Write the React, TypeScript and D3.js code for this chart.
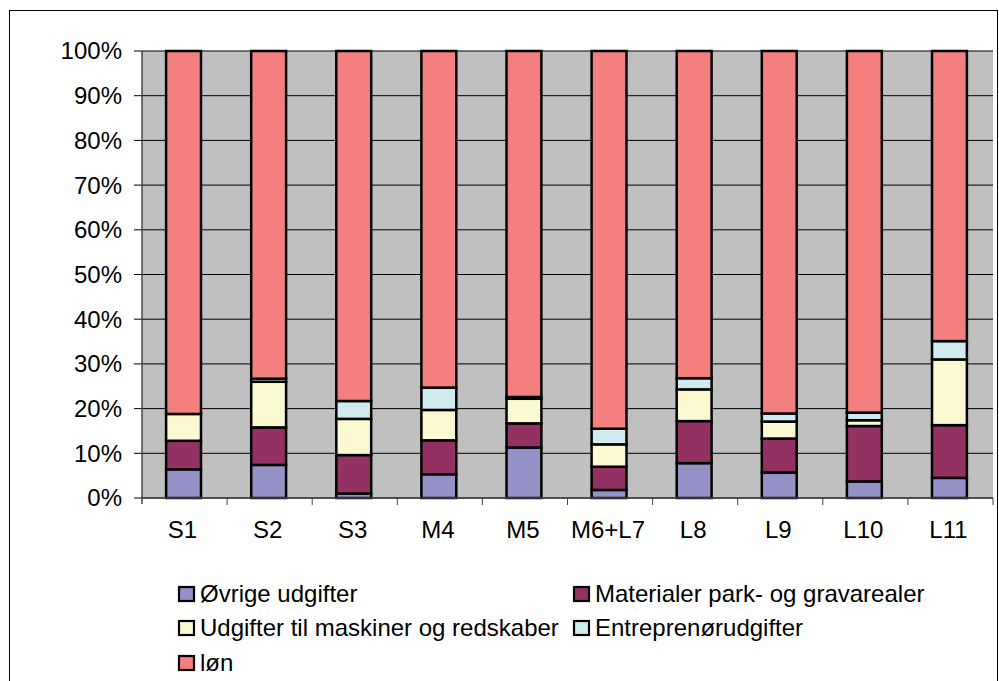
import React from 'react';
import * as d3 from 'd3';

const categories = ['S1', 'S2', 'S3', 'M4', 'M5', 'M6+L7', 'L8', 'L9', 'L10', 'L11'];
const seriesNames = [
  'Øvrige udgifter',
  'Materialer park- og gravarealer',
  'Udgifter til maskiner og redskaber',
  'Entreprenørudgifter',
  'løn',
];
const seriesColors = ['#9491c6', '#933163', '#fbf9d1', '#cfebef', '#f47f7f'];

// shares in percent, one array per series
const ovrige = [6.4, 7.4, 1.0, 5.3, 11.3, 1.8, 7.8, 5.7, 3.7, 4.5];
const materialer = [6.4, 8.4, 8.6, 7.6, 5.4, 5.2, 9.4, 7.6, 12.4, 11.8];
const maskiner = [6.0, 10.2, 8.1, 6.8, 5.5, 5.0, 7.1, 3.8, 1.3, 14.7];
const entreprenor = [0, 0.7, 4.0, 5.0, 0.4, 3.5, 2.5, 1.8, 1.7, 4.1];
const lon = [81.2, 73.3, 78.3, 75.3, 77.4, 84.5, 73.2, 81.1, 80.9, 64.9];
const yTicks = [0, 10, 20, 30, 40, 50, 60, 70, 80, 90, 100];

const W = 999, H = 681;
const left = 142, right = 993, top = 51, bottom = 498;
const font = '"Liberation Sans", Arial, sans-serif';
const fs = 24;

export default function App() {
  const series = [ovrige, materialer, maskiner, entreprenor, lon];
  const rows = categories.map((c, i) => {
    const r: any = { cat: c };
    seriesNames.forEach((n, k) => { r[n] = series[k][i]; });
    return r;
  });
  const stacked = d3.stack().keys(seriesNames).offset(d3.stackOffsetExpand)(rows);

  const x = d3.scaleBand().domain(categories).range([left, right]).paddingInner(0).paddingOuter(0);
  const y = d3.scaleLinear().domain([0, 1]).range([bottom, top]);
  const barW = x.bandwidth() * 0.41;

  // legend layout: two columns, three rows
  const legendItems = [
    { x: 179, y: 594 }, { x: 574, y: 594 },
    { x: 179, y: 628 }, { x: 574, y: 628 },
    { x: 179, y: 663 },
  ];

  return (
    <svg width={W} height={H} style={{ position: 'absolute', left: 0, top: 0, background: '#fff' }}>
      <rect x={9.5} y={10.5} width={988} height={680} fill="#fff" stroke="#000" strokeWidth={1} />
      <rect x={left} y={top} width={right - left} height={bottom - top} fill="#c0c0c0" />
      {yTicks.map(t => (
        <g key={t}>
          <line x1={left - 8} x2={right} y1={y(t / 100)} y2={y(t / 100)} stroke="#000" strokeWidth={1} />
          <text x={left - 20} y={y(t / 100)} dy="0.35em" textAnchor="end" fontFamily={font} fontSize={fs} fill="#000">{t}%</text>
        </g>
      ))}
      {stacked.map((s, k) => (
        <g key={k}>
          {s.map((d, i) => (
            d[1] - d[0] > 0 ? (
              <rect key={i}
                x={(x(categories[i]) as number) + (x.bandwidth() - barW) / 2 - 1}
                y={y(d[1])}
                width={barW}
                height={y(d[0]) - y(d[1])}
                fill={seriesColors[k]} stroke="#000" strokeWidth={2.5} />
            ) : null
          ))}
        </g>
      ))}
      <line x1={left} x2={left} y1={top} y2={bottom + 6} stroke="#444" strokeWidth={1.5} />
      <line x1={left} x2={right} y1={bottom} y2={bottom} stroke="#444" strokeWidth={1.5} />
      {categories.map((c, i) => (
        <g key={c}>
          <line x1={(x(c) as number) + x.bandwidth()} x2={(x(c) as number) + x.bandwidth()} y1={bottom} y2={bottom + 7} stroke="#444" strokeWidth={1} />
          <text x={(x(c) as number) + x.bandwidth() / 2 - 2} y={bottom + 40} textAnchor="middle" fontFamily={font} fontSize={fs} fill="#000">{c}</text>
        </g>
      ))}
      {legendItems.map((p, k) => (
        <g key={k}>
          <rect x={p.x} y={p.y - 7} width={15} height={14} fill={seriesColors[k]} stroke="#000" strokeWidth={2.2} />
          <text x={p.x + 21} y={p.y} dy="0.35em" fontFamily={font} fontSize={fs} fill="#000">{seriesNames[k]}</text>
        </g>
      ))}
    </svg>
  );
}
